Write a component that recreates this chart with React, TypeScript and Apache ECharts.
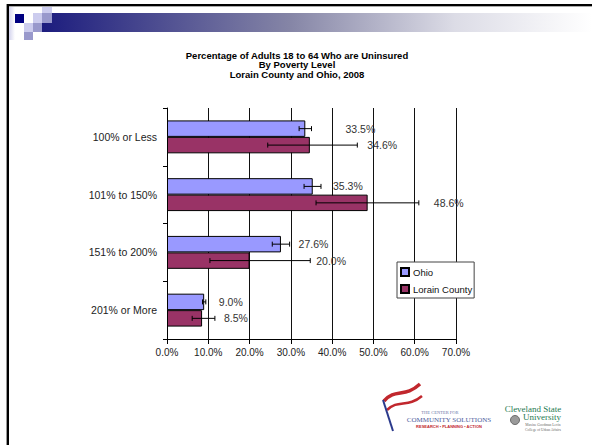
import React, { useEffect, useRef } from 'react';
import * as echarts from 'echarts';

const categories = ['100% or Less', '101% to 150%', '151% to 200%', '201% or More'];
const seriesNames = ['Ohio', 'Lorain County'];
const ohioValues = [33.5, 35.3, 27.6, 9.0];
const lorainValues = [34.6, 48.6, 20.0, 8.5];
const ohioLow = [32.0, 33.2, 25.5, 8.6];
const ohioHigh = [35.0, 37.3, 29.7, 9.4];
const lorainLow = [24.4, 36.1, 10.4, 6.1];
const lorainHigh = [46.1, 61.0, 34.7, 11.6];
const xMin = 0;
const xMax = 70;
const xInterval = 10;
const titleLines = [
  'Percentage of Adults 18 to 64 Who are Uninsured',
  'By Poverty Level',
  'Lorain County and Ohio, 2008',
];

// label spacing (px) after each error bar end
const ohioLabelGap = [34, 12, 9, 13];
const lorainLabelGap = [10, 15, 6, 9];

const OHIO_COLOR = '#9999FF';
const LORAIN_COLOR = '#993366';
const CAT_GAP = 0.43;
const FONT = '"Liberation Sans", Arial, sans-serif';

function errorSeries(name: string, low: number[], high: number[], vals: number[], gaps: number[], side: number) {
  return {
    name: name + ' error',
    type: 'custom',
    z: 5,
    encode: { x: [0, 2], y: 1 },
    data: low.map((l, i) => [l, i, high[i], vals[i]]),
    renderItem: (params: any, api: any) => {
      const cat = api.value(1);
      const lo = api.coord([api.value(0), cat]);
      const hi = api.coord([api.value(2), cat]);
      const band = api.size([0, 1])[1];
      const bw = (band * (1 - CAT_GAP)) / 2;
      const y = lo[1] + (side * bw) / 2;
      const cap = 2.5;
      const stroke = { stroke: '#000', lineWidth: 1 };
      return {
        type: 'group',
        children: [
          { type: 'line', shape: { x1: lo[0], y1: y, x2: hi[0], y2: y }, style: stroke },
          { type: 'line', shape: { x1: lo[0], y1: y - cap, x2: lo[0], y2: y + cap }, style: stroke },
          { type: 'line', shape: { x1: hi[0], y1: y - cap, x2: hi[0], y2: y + cap }, style: stroke },
          {
            type: 'text',
            style: {
              text: api.value(3).toFixed(1) + '%',
              x: hi[0] + gaps[params.dataIndex],
              y: y,
              fill: '#333',
              font: '10.5px ' + FONT,
              align: 'left',
              verticalAlign: 'middle',
            },
          },
        ],
      };
    },
  };
}

function decorations(): any[] {
  const els: any[] = [];
  // slide frame
  els.push({ type: 'rect', shape: { x: 6, y: 4, width: 1, height: 445 }, style: { fill: '#999' } });
  els.push({ type: 'rect', shape: { x: 7, y: 4, width: 585, height: 2 }, style: { fill: '#000' } });
  els.push({ type: 'rect', shape: { x: 7, y: 6, width: 585, height: 1 }, style: { fill: '#aaa' } });
  els.push({ type: 'rect', shape: { x: 7, y: 4, width: 2, height: 445 }, style: { fill: '#000' } });
  // faint strip
  els.push({
    type: 'rect',
    shape: { x: 9, y: 7, width: 6, height: 33 },
    style: {
      fill: new echarts.graphic.LinearGradient(0, 0, 1, 0, [
        { offset: 0, color: '#d4d4ee' },
        { offset: 1, color: '#ffffff' },
      ]),
    },
  });
  // gradient band
  els.push({
    type: 'rect',
    shape: { x: 42, y: 13, width: 550, height: 19 },
    style: {
      fill: new echarts.graphic.LinearGradient(0, 0, 1, 0, [
        { offset: 0, color: '#1c1c7e' },
        { offset: 0.45, color: '#8585a6' },
        { offset: 0.75, color: '#dcdce6' },
        { offset: 1, color: '#ffffff' },
      ]),
    },
  });
  const sq = (x: number, y: number, w: number, h: number, c: string) =>
    els.push({ type: 'rect', shape: { x, y, width: w, height: h }, style: { fill: c } });
  sq(42, 7, 10, 6, '#ccccee');
  sq(15, 14, 9, 9, '#000080');
  sq(33, 13, 9, 10, '#ccccee');
  sq(42, 13, 10, 10, '#9999cc');
  sq(24, 23, 9, 9, '#ccccee');
  sq(33, 23, 9, 9, '#9999cc');
  sq(24, 32, 9, 8, '#9999cc');

  // chart title
  titleLines.forEach((t, i) => {
    els.push({
      type: 'text',
      style: {
        text: t,
        x: 297,
        y: 55 + i * 9.8,
        align: 'center',
        verticalAlign: 'middle',
        fill: '#000',
        font: 'bold 9.5px "Liberation Sans", Arial, sans-serif',
        lineHeight: 9.5,
      },
    });
  });

  // Center for Community Solutions logo
  els.push({
    type: 'bezierCurve',
    shape: { x1: 384, y1: 401, cpx1: 395, cpy1: 388, cpx2: 405, cpy2: 398, x2: 420, y2: 384 },
    style: { stroke: '#c1272d', lineWidth: 3.5, fill: 'none' },
  });
  els.push({
    type: 'bezierCurve',
    shape: { x1: 387, y1: 410, cpx1: 398, cpy1: 399, cpx2: 408, cpy2: 408, x2: 422, y2: 396 },
    style: { stroke: '#c1272d', lineWidth: 2.5, fill: 'none' },
  });
  els.push({
    type: 'line',
    shape: { x1: 383, y1: 400, x2: 393, y2: 431 },
    style: { stroke: '#2b3a8c', lineWidth: 2 },
  });
  els.push({
    type: 'text',
    style: { text: 'THE CENTER FOR', x: 440, y: 412, align: 'center', verticalAlign: 'middle', fill: '#6a74a8', font: '4.5px serif', lineHeight: 4.5 },
  });
  els.push({
    type: 'text',
    style: { text: 'COMMUNITY SOLUTIONS', x: 449, y: 419.5, align: 'center', verticalAlign: 'middle', fill: '#4c5c9c', font: '7px "Liberation Serif", serif', lineHeight: 6.5 },
  });
  els.push({
    type: 'text',
    style: { text: 'RESEARCH • PLANNING • ACTION', x: 449, y: 426.5, align: 'center', verticalAlign: 'middle', fill: '#c1272d', font: 'bold 4px sans-serif', lineHeight: 4 },
  });

  // Cleveland State University logo
  els.push({
    type: 'text',
    style: { text: 'Cleveland State', x: 533, y: 408.5, align: 'center', verticalAlign: 'middle', fill: '#1f7a52', font: '9px "Liberation Serif", serif', lineHeight: 8 },
  });
  els.push({
    type: 'text',
    style: { text: 'University', x: 542, y: 417, align: 'center', verticalAlign: 'middle', fill: '#1f7a52', font: '9px "Liberation Serif", serif', lineHeight: 8 },
  });
  els.push({ type: 'circle', shape: { cx: 515, cy: 420, r: 4.5 }, style: { fill: '#9a9a9a', stroke: '#555', lineWidth: 0.8 } });
  els.push({
    type: 'text',
    style: { text: 'Maxine Goodman Levin', x: 543, y: 425, align: 'center', verticalAlign: 'middle', fill: '#666', font: '3.6px "Liberation Serif", serif', lineHeight: 3.8 },
  });
  els.push({
    type: 'text',
    style: { text: 'College of Urban Affairs', x: 543, y: 429.5, align: 'center', verticalAlign: 'middle', fill: '#666', font: '3.6px "Liberation Serif", serif', lineHeight: 3.8 },
  });
  return els;
}

export default function App() {
  const ref = useRef<HTMLDivElement>(null);
  useEffect(() => {
    if (!ref.current) return;
    const chart = echarts.init(ref.current, null, { renderer: 'svg' });
    const option: any = {
      animation: false,
      backgroundColor: '#ffffff',
      legend: {
        data: seriesNames,
        orient: 'vertical',
        left: 397,
        top: 262,
        backgroundColor: '#fff',
        borderColor: '#444',
        borderWidth: 1,
        borderRadius: 0,
        padding: [4, 2, 3, 3],
        itemWidth: 8,
        itemHeight: 8,
        itemGap: 5,
        icon: 'rect',
        textStyle: { fontFamily: FONT, fontSize: 9.5, color: '#111', lineHeight: 12, padding: [0, 0, 0, -1] },
      },
      grid: { left: 167, right: 136, top: 108, bottom: 106, containLabel: false },
      xAxis: {
        type: 'value',
        min: xMin,
        max: xMax,
        interval: xInterval,
        axisLine: { show: true, lineStyle: { color: '#000', width: 1 } },
        axisTick: { show: true, length: 5, lineStyle: { color: '#000' } },
        splitLine: { show: true, lineStyle: { color: '#111', width: 1 } },
        axisLabel: {
          formatter: (v: number) => v.toFixed(1) + '%',
          color: '#222',
          fontFamily: FONT,
          fontSize: 10,
          margin: 8,
        },
      },
      yAxis: {
        type: 'category',
        data: categories,
        inverse: true,
        axisLine: { show: true, lineStyle: { color: '#000', width: 1 } },
        axisTick: { show: true, length: 4, lineStyle: { color: '#000' } },
        splitLine: { show: false },
        axisLabel: { color: '#222', fontFamily: FONT, fontSize: 10.5, margin: 10 },
      },
      series: [
        {
          name: 'Ohio',
          type: 'bar',
          data: ohioValues,
          barGap: '0%',
          barCategoryGap: '43%',
          itemStyle: { color: OHIO_COLOR, borderColor: '#000', borderWidth: 1 },
        },
        {
          name: 'Lorain County',
          type: 'bar',
          data: lorainValues,
          barGap: '0%',
          barCategoryGap: '43%',
          itemStyle: { color: LORAIN_COLOR, borderColor: '#000', borderWidth: 1 },
        },
        errorSeries('Ohio', ohioLow, ohioHigh, ohioValues, ohioLabelGap, -1),
        errorSeries('Lorain County', lorainLow, lorainHigh, lorainValues, lorainLabelGap, 1),
      ],
      graphic: { elements: decorations() },
    };
    chart.setOption(option);
    return () => chart.dispose();
  }, []);
  return (
    <div
      ref={ref}
      style={{ position: 'fixed', left: 0, top: 0, width: 592, height: 445, background: '#fff' }}
    />
  );
}
